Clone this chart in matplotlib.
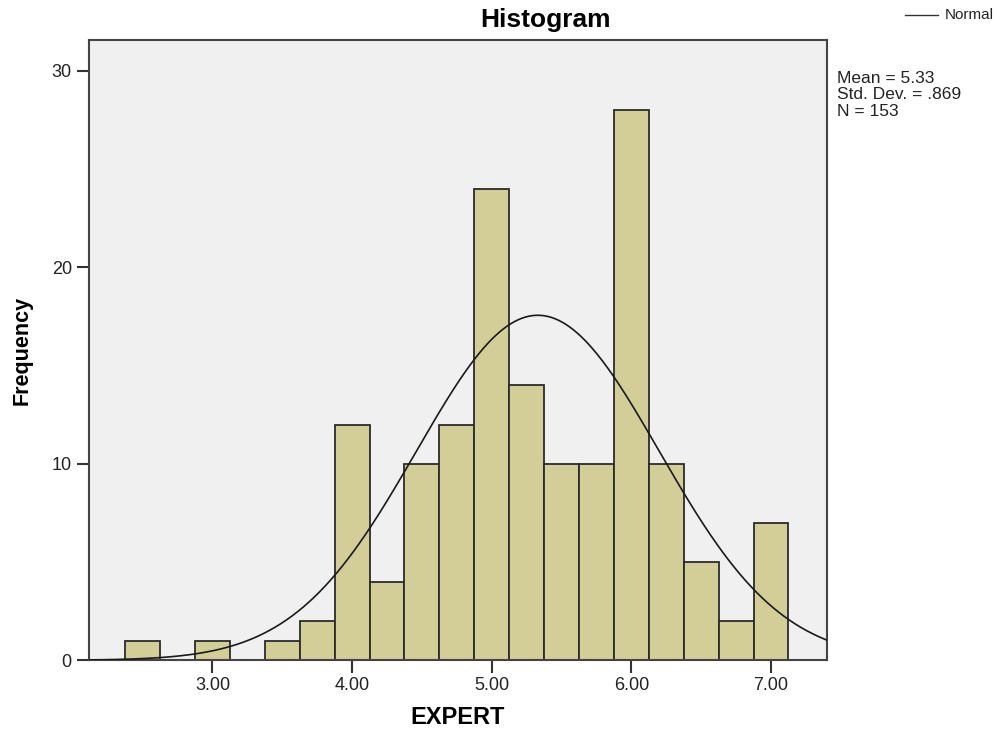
import numpy as np
import matplotlib
matplotlib.use("Agg")
import matplotlib.pyplot as plt

plt.rcParams['font.family'] = ['Liberation Sans', 'DejaVu Sans']

# Data
bin_centers = [2.50, 2.75, 3.00, 3.25, 3.50, 3.75, 4.00, 4.25, 4.50, 4.75,
               5.00, 5.25, 5.50, 5.75, 6.00, 6.25, 6.50, 6.75, 7.00]
counts = [1, 0, 1, 0, 1, 2, 12, 4, 10, 12, 24, 14, 10, 10, 28, 10, 5, 2, 7]
bin_width = 0.25
mean_val = 5.33
std_val = 0.869
n_val = 153
x_ticks = [3.0, 4.0, 5.0, 6.0, 7.0]
x_tick_labels = ["3.00", "4.00", "5.00", "6.00", "7.00"]
y_ticks = [0, 10, 20, 30]
y_tick_labels = ["0", "10", "20", "30"]

W, H = 1006, 734
fig = plt.figure(figsize=(W/100, H/100), dpi=100)
L, R, T, B = 88.5, 826.7, 40, 660.3
ax = fig.add_axes([L/W, 1-B/H, (R-L)/W, (B-T)/H])
ax.set_facecolor('#f0f0f0')

ax.bar(bin_centers, counts, width=bin_width, color='#d3ce98',
       edgecolor='#2b2b2b', linewidth=1.3, zorder=2)

xlim = (2.112, 7.399)
xs = np.linspace(xlim[0], xlim[1], 400)
ys = n_val * bin_width * np.exp(-0.5 * ((xs - mean_val) / std_val) ** 2) / (std_val * np.sqrt(2 * np.pi))
ax.plot(xs, ys, color='#1a1a1a', linewidth=1.2, zorder=3)

ax.set_xlim(*xlim)
ax.set_ylim(0, 31.57)
ax.set_xticks(x_ticks)
ax.set_xticklabels(x_tick_labels)
ax.set_yticks(y_ticks)
ax.set_yticklabels(y_tick_labels)
ax.tick_params(axis='both', direction='out', length=9, width=1.5, color='#333333',
               labelsize=13, labelcolor='#222222', pad=3)
for s in ax.spines.values():
    s.set_color('#444444')
    s.set_linewidth(1.5)

ax.text(0.5, (B-717)/(B-T), 'EXPERT', transform=ax.transAxes, fontsize=17,
        fontweight='bold', ha='center', va='center')
ax.text((22-L)/(R-L), 0.5, 'Frequency', transform=ax.transAxes, fontsize=15.5,
        fontweight='bold', ha='center', va='center', rotation=90)

fig.text(545/W, 1-20/H, 'Histogram', fontsize=19, fontweight='bold',
         ha='center', va='center')

# Legend: Normal
fig.add_artist(matplotlib.lines.Line2D([905/W, 938/W], [1-15/H, 1-15/H],
                                       color='#333333', linewidth=1.0))
fig.text(945/W, 1-15/H, 'Normal', fontsize=11, ha='left', va='center', color='#222222')

fig.text(837/W, 1-71/H, 'Mean = 5.33\nStd. Dev. = .869\nN = 153', fontsize=12.5,
         ha='left', va='top', linespacing=1.12, color='#222222')

fig.savefig('out.png', dpi=100, facecolor='white')
